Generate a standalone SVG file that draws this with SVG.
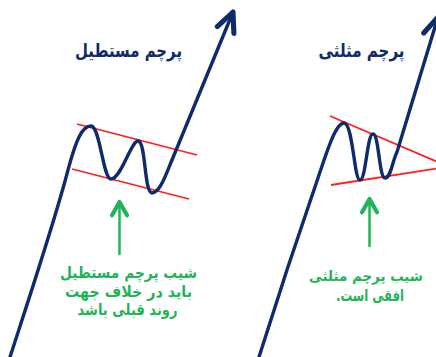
<svg xmlns="http://www.w3.org/2000/svg" width="436" height="357" viewBox="0 0 436 357">
<style>
.trend{fill:none;stroke:#0f2b6b;stroke-width:3.4;stroke-linecap:round;stroke-linejoin:round}
.bound{fill:none;stroke:#ff1f1f;stroke-width:1.8}
.pointer{fill:none;stroke:#1fb457;stroke-width:2.5;stroke-linecap:round;stroke-linejoin:round}
.title{font-family:"DejaVu Sans",sans-serif;font-weight:bold;font-size:19px;fill:#0f2b6b;text-anchor:middle}
.note{font-family:"DejaVu Sans",sans-serif;font-weight:bold;font-size:15.5px;fill:#1fb457;text-anchor:middle}
</style>
<defs>
<marker id="navyHead" markerUnits="userSpaceOnUse" orient="auto" markerWidth="30" markerHeight="30" refX="0" refY="0" viewBox="-16 -10 20 20" overflow="visible">
<path d="M -13 -6 L 0 0 L -13 6" fill="none" stroke="#0f2b6b" stroke-width="3.4" stroke-linecap="round" stroke-linejoin="round"/>
</marker>
<marker id="greenHead" markerUnits="userSpaceOnUse" orient="auto" markerWidth="20" markerHeight="20" refX="0" refY="0" viewBox="-10 -6 12 12" overflow="visible">
<path d="M -8 -4.5 L 0 0 L -8 4.5" fill="none" stroke="#1fb457" stroke-width="2.5" stroke-linecap="round" stroke-linejoin="round"/>
</marker>
</defs>
<g id="rect-flag">
<text class="title" x="128.5" y="57" direction="rtl" textLength="107" lengthAdjust="spacingAndGlyphs">پرچم مستطیل</text>
<line class="bound" x1="77" y1="124" x2="197" y2="155"/>
<line class="bound" x1="72" y1="169" x2="189" y2="199"/>
</g>
<g id="rect-note">
<text class="note" x="128.5" y="278" direction="rtl" textLength="137" lengthAdjust="spacingAndGlyphs">شیب پرچم مستطیل</text>
<text class="note" x="128.5" y="296.5" direction="rtl" textLength="127" lengthAdjust="spacingAndGlyphs">باید در خلاف جهت</text>
<text class="note" x="127.5" y="315" direction="rtl" textLength="100" lengthAdjust="spacingAndGlyphs">روند قبلی باشد</text>
</g>
<g id="tri-flag">
<text class="title" x="361.5" y="57" direction="rtl" textLength="86" lengthAdjust="spacingAndGlyphs">پرچم مثلثی</text>
<line class="bound" x1="330" y1="116" x2="440" y2="163"/>
<line class="bound" x1="331" y1="185" x2="440" y2="168"/>
</g>
<g id="tri-note">
<text class="note" x="366" y="281" direction="rtl" textLength="114" lengthAdjust="spacingAndGlyphs" style="font-size:14px">شیب پرچم مثلثی</text>
<text class="note" x="370" y="300.5" direction="rtl" textLength="68" lengthAdjust="spacingAndGlyphs">افقی است.</text>
</g>
<g id="connectors">
<path class="trend" marker-end="url(#navyHead)" d="M 10 357 C 35 280, 55 220, 68 170 C 76 140, 82 126, 91 126 C 100 126, 103 179, 111 179 C 121 179, 131 141, 138 141 C 146 141, 144 193, 152 193 C 160 193, 166 174, 172 160 L 233 12"/>
<path class="trend" marker-end="url(#navyHead)" d="M 259 357 C 280 290, 300 230, 318 178 C 328 148, 336 123, 344 123 C 353 123, 354 180, 360 180 C 366 180, 367 134, 373 134 C 379 134, 379 178, 385 178 C 391 178, 392 162, 397 152 L 438 17"/>
<path class="pointer" marker-end="url(#greenHead)" d="M 119.5 254 L 119.5 202"/>
<path class="pointer" marker-end="url(#greenHead)" d="M 369.5 246 L 369.5 199"/>
</g>
</svg>
